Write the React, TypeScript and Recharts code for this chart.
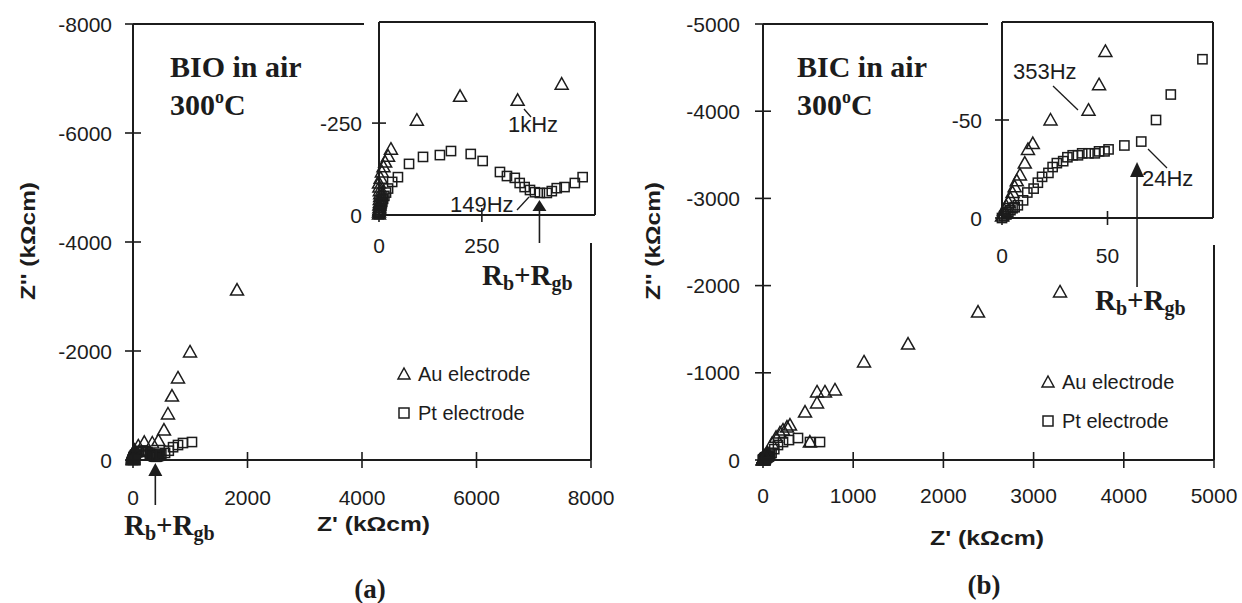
import React from 'react';
import { ScatterChart, Scatter, XAxis, YAxis, ReferenceLine } from 'recharts';

const INK = '#1c1c1c';
const SANS = '"Liberation Sans", Arial, sans-serif';
const SERIF = '"Liberation Serif", "Times New Roman", serif';

// (a) BIO in air, 300 C : [Z', Z''] in kOhm cm
const bioAu: [number, number][] = [
  [0, -3], [0, -8], [1, -14], [1, -20], [1, -27], [2, -34], [2, -42], [3, -50], [3, -58],
  [2, -66], [1, -76], [0, -87], [4, -100], [7, -117], [11, -131], [15, -144], [22, -160],
  [29, -179], [92, -258], [197, -323], [337, -312], [444, -356], [541, -550], [611, -844],
  [681, -1174], [786, -1505], [996, -1982], [1817, -3119],
];
const bioPt: [number, number][] = [
  [0, -2], [1, -5], [2, -9], [3, -13], [4, -18], [5, -23], [6, -29], [8, -36], [10, -44],
  [13, -52], [17, -61], [22, -72], [32, -90], [46, -103], [73, -139], [107, -158], [148, -163],
  [175, -174], [223, -166], [252, -147], [294, -117], [311, -106], [330, -101], [342, -87],
  [354, -76], [367, -68], [379, -62], [391, -60], [408, -60], [420, -65], [432, -73], [451, -76],
  [476, -87], [495, -103], [560, -130], [625, -170], [700, -235], [786, -275], [873, -312], [1030, -330],
];

// (b) BIC in air, 300 C
const bicAu: [number, number][] = [
  [0, -1], [1, -2], [1, -4], [2, -6], [3, -8], [4, -10], [5, -13], [6, -16], [7, -19],
  [8.5, -22], [10.8, -28], [12.3, -35], [14.6, -38], [23, -50], [41, -55], [46, -68], [49, -85],
  [100, -190], [145, -260], [188, -310], [222, -344], [266, -378], [299, -401], [466, -550],
  [520, -206], [599, -654], [599, -780], [687, -780], [798, -803], [1120, -1124], [1608, -1330],
  [2384, -1697], [3293, -1927],
];
const bicPt: [number, number][] = [
  [0, 0], [1, -1], [2, -2], [3, -3], [4, -4], [5, -5], [6, -5.5], [7.5, -6.5], [10, -9],
  [12, -13], [15, -15], [17, -18], [19, -21], [22, -23], [24, -26], [26, -28], [29, -29],
  [31, -31], [33.5, -32], [36, -32], [38, -33], [41, -33], [44, -33], [46, -34], [48.6, -34],
  [50.5, -35], [58, -37], [66, -39], [73, -50], [80, -63], [95, -81], [125, -125], [166, -172],
  [222, -206], [288, -229], [388, -252], [521, -206], [632, -206],
];

const bioMainXTicks = [0, 2000, 4000, 6000, 8000];
const bioMainYTicks = [-8000, -6000, -4000, -2000, 0];
const bioInsetXTicks = [0, 250];
const bioInsetYTicks = [-250, 0];
const bicMainXTicks = [0, 1000, 2000, 3000, 4000, 5000];
const bicMainYTicks = [-5000, -4000, -3000, -2000, -1000, 0];
const bicInsetXTicks = [0, 50];
const bicInsetYTicks = [-50, 0];

// R_b + R_gb marked by the arrows
const bioRbRgb = 390;
const bicRbRgb = 64;

const Tri = (props: any) => {
  const { cx, cy } = props;
  return (
    <path d={`M${cx},${cy - 6.5}L${cx + 6.5},${cy + 5}L${cx - 6.5},${cy + 5}Z`}
      fill="none" stroke={INK} strokeWidth={1.5} />
  );
};

const Sq = (props: any) => {
  const { cx, cy } = props;
  return <rect x={cx - 4.6} y={cy - 4.6} width={9.2} height={9.2} fill="none" stroke={INK} strokeWidth={1.5} />;
};

const arrowShape = (tip: number, base: number, tail: number) => (props: any) => {
  const { cx, cy } = props;
  return (
    <g>
      <line x1={cx} x2={cx} y1={cy + base} y2={cy + tail} stroke={INK} strokeWidth={1.6} />
      <path d={`M${cx},${cy + tip}L${cx + 7},${cy + base}L${cx - 7},${cy + base}Z`} fill={INK} />
    </g>
  );
};

const yTick = (len: number, gap: number) => (props: any) => {
  const { x, y, payload } = props;
  return (
    <g>
      <line x1={x - len} x2={x + len} y1={y} y2={y} stroke={INK} strokeWidth={1.6} />
      <text x={x - gap} y={y} textAnchor="end" dominantBaseline="central"
        fontSize={21} fontFamily={SANS} fill={INK}>{payload.value}</text>
    </g>
  );
};

const xTick = (len: number, gap: number) => (props: any) => {
  const { x, y, payload } = props;
  return (
    <g>
      <line x1={x} x2={x} y1={y - len} y2={y + len} stroke={INK} strokeWidth={1.6} />
      <text x={x} y={y + gap} textAnchor="middle" dominantBaseline="central"
        fontSize={21} fontFamily={SANS} fill={INK}>{payload.value}</text>
    </g>
  );
};

const toPts = (d: [number, number][], xMax: number, yMin: number) =>
  d.filter(([x, y]) => x <= xMax && y >= yMin).map(([x, y]) => ({ x, y }));

interface PlotProps {
  left: number; top: number; width: number; height: number;
  margin: { top: number; right: number; bottom: number; left: number };
  yAxisW: number; xMax: number; yMin: number;
  xTicks: number[]; yTicks: number[];
  au: [number, number][]; pt: [number, number][];
  tickLen: number; xGap: number; yGap: number;
  arrow?: { x: number; tip: number; base: number; tail: number };
}

function Plot(p: PlotProps) {
  const axisLine = { stroke: INK, strokeWidth: 2 };
  return (
    <div style={{ position: 'absolute', left: p.left, top: p.top }}>
      <ScatterChart width={p.width} height={p.height} margin={p.margin}>
        <XAxis type="number" dataKey="x" domain={[0, p.xMax]} ticks={p.xTicks} interval={0}
          tickSize={0} tickMargin={0} height={40} axisLine={axisLine} tickLine={false}
          tick={xTick(p.tickLen, p.xGap)} />
        <YAxis type="number" dataKey="y" domain={[p.yMin, 0]} reversed ticks={p.yTicks} interval={0}
          tickSize={0} tickMargin={0} width={p.yAxisW} axisLine={axisLine} tickLine={false}
          tick={yTick(p.tickLen, p.yGap)} />
        <ReferenceLine y={p.yMin} stroke={INK} strokeWidth={2} />
        <ReferenceLine x={p.xMax} stroke={INK} strokeWidth={2} />
        <Scatter data={toPts(p.pt, p.xMax, p.yMin)} shape={Sq} isAnimationActive={false} />
        <Scatter data={toPts(p.au, p.xMax, p.yMin)} shape={Tri} isAnimationActive={false} />
        {p.arrow && (
          <Scatter data={[{ x: p.arrow.x, y: 0 }]} isAnimationActive={false}
            shape={arrowShape(p.arrow.tip, p.arrow.base, p.arrow.tail)} />
        )}
      </ScatterChart>
    </div>
  );
}

const Rbgb = ({ x, y }: { x: number; y: number }) => (
  <text x={x} y={y} fontFamily={SERIF} fontWeight="bold" fontSize={29} fill={INK}>
    R<tspan fontSize={20} dy={5}>b</tspan>
    <tspan dy={-5}>+R</tspan>
    <tspan fontSize={20} dy={5}>gb</tspan>
  </text>
);

const Title = ({ x, name }: { x: number; name: string }) => (
  <g fontFamily={SERIF} fontWeight="bold" fontSize={30} fill={INK}>
    <text x={x} y={77}>{name}</text>
    <text x={x} y={115}>300<tspan fontSize={18} dy={-12}>o</tspan><tspan dy={12}>C</tspan></text>
  </g>
);

const LegendBox = ({ x, y }: { x: number; y: number }) => (
  <g fontFamily={SANS} fontSize={20} fill={INK}>
    <path d={`M${x},${y - 6}L${x + 6},${y + 5}L${x - 6},${y + 5}Z`} fill="none" stroke={INK} strokeWidth={1.5} />
    <text x={x + 14} y={y} dominantBaseline="central">Au electrode</text>
    <rect x={x - 5} y={y + 34} width={10} height={10} fill="none" stroke={INK} strokeWidth={1.5} />
    <text x={x + 14} y={y + 39} dominantBaseline="central">Pt electrode</text>
  </g>
);

export default function App() {
  return (
    <div style={{ position: 'absolute', left: 0, top: 0, width: 1242, height: 603, background: '#fff', overflow: 'hidden' }}>
      {/* (a) main */}
      <Plot left={0} top={0} width={620} height={560} margin={{ top: 24, right: 29, bottom: 60, left: 73 }}
        yAxisW={60} xMax={8000} yMin={-8000} xTicks={bioMainXTicks} yTicks={bioMainYTicks}
        au={bioAu} pt={bioPt} tickLen={8} xGap={37} yGap={21}
        arrow={{ x: bioRbRgb, tip: 3, base: 16, tail: 45 }} />
      <div style={{ position: 'absolute', left: 364, top: 0, width: 236, height: 243, background: '#fff' }} />
      {/* (a) inset */}
      <Plot left={300} top={0} width={320} height={300} margin={{ top: 22, right: 25, bottom: 45, left: 39 }}
        yAxisW={40} xMax={525} yMin={-525} xTicks={bioInsetXTicks} yTicks={bioInsetYTicks}
        au={bioAu} pt={bioPt} tickLen={7} xGap={30} yGap={17}
        arrow={{ x: bioRbRgb, tip: -15, base: -4, tail: 28 }} />

      {/* (b) main */}
      <Plot left={620} top={0} width={622} height={560} margin={{ top: 24, right: 28, bottom: 60, left: 83 }}
        yAxisW={60} xMax={5000} yMin={-5000} xTicks={bicMainXTicks} yTicks={bicMainYTicks}
        au={bicAu} pt={bicPt} tickLen={8} xGap={35} yGap={23} />
      <div style={{ position: 'absolute', left: 988, top: 0, width: 237, height: 245, background: '#fff' }} />
      {/* (b) inset */}
      <Plot left={920} top={0} width={322} height={300} margin={{ top: 22, right: 29, bottom: 42, left: 42 }}
        yAxisW={40} xMax={100} yMin={-100} xTicks={bicInsetXTicks} yTicks={bicInsetYTicks}
        au={bicAu} pt={bicPt} tickLen={7} xGap={37} yGap={20}
        arrow={{ x: bicRbRgb, tip: -56, base: -41, tail: 69 }} />

      <svg width={1242} height={603} style={{ position: 'absolute', left: 0, top: 0, pointerEvents: 'none' }}>
        <Title x={170} name="BIO in air" />
        <Title x={797} name="BIC in air" />

        <Rbgb x={124} y={535} />
        <Rbgb x={482} y={285} />
        <Rbgb x={1095} y={310} />

        <g fontFamily={SANS} fontSize={22} fill={INK}>
          <text x={508} y={124} dominantBaseline="central">1kHz</text>
          <text x={450} y={204} dominantBaseline="central">149Hz</text>
          <text x={1013} y={71} dominantBaseline="central">353Hz</text>
          <text x={1142} y={178} dominantBaseline="central">24Hz</text>
        </g>
        <g stroke={INK} strokeWidth={1.3}>
          <line x1={524} y1={109} x2={531} y2={117} />
          <line x1={517} y1={210} x2={529} y2={197} />
          <line x1={1053} y1={86} x2={1078} y2={110} />
          <line x1={1148} y1={149} x2={1167} y2={168} />
        </g>

        <LegendBox x={404} y={374} />
        <LegendBox x={1048} y={382} />

        <g fontFamily={SANS} fontWeight="bold" fontSize={21} fill={INK}>
          <text x={317} y={523} dominantBaseline="central" textLength={113} lengthAdjust="spacingAndGlyphs">Z' (kΩcm)</text>
          <text x={930} y={537} dominantBaseline="central" textLength={114} lengthAdjust="spacingAndGlyphs">Z' (kΩcm)</text>
          <text x={27} y={241} transform="rotate(-90 27 241)" textAnchor="middle" dominantBaseline="central"
            textLength={118} lengthAdjust="spacingAndGlyphs">Z'' (kΩcm)</text>
          <text x={652} y={241} transform="rotate(-90 652 241)" textAnchor="middle" dominantBaseline="central"
            textLength={118} lengthAdjust="spacingAndGlyphs">Z'' (kΩcm)</text>
        </g>

        <g fontFamily={SERIF} fontWeight="bold" fontSize={27} fill={INK}>
          <text x={370} y={589} textAnchor="middle" dominantBaseline="central">(a)</text>
          <text x={984} y={585} textAnchor="middle" dominantBaseline="central">(b)</text>
        </g>
      </svg>
    </div>
  );
}
